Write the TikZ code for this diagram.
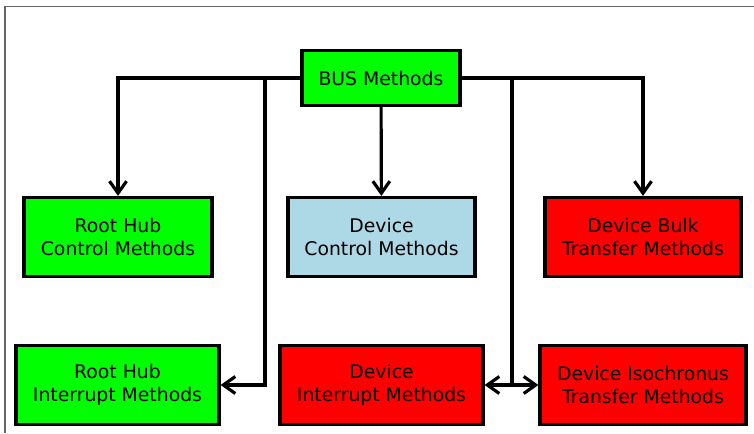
\documentclass[tikz,border=0pt]{standalone}
\usepackage{fontspec}
\setmainfont{DejaVu Sans}
\usetikzlibrary{arrows,arrows.meta,positioning,calc}

\definecolor{lightblue}{RGB}{173,216,230}

\tikzset{
    method/.style={draw,line width=1.8pt,minimum height=1.58cm,inner sep=0pt,align=center,
        font=\fontsize{10.7}{13.1}\selectfont},
    link/.style={line width=1.8pt,-{Straight Barb[length=2.4mm,width=3.4mm]}},
}

\begin{document}
\begin{tikzpicture}
        \useasboundingbox (0,0) rectangle (15.08,-8.66);

        % Frame
        \draw[line width=1pt,black!60] (0.1,-8.66) -- (0.1,-0.13) -- (15.08,-0.13);

        % Top box
        \node[method,fill=green,minimum width=3.16cm,minimum height=1.1cm] (bus) at (7.62,-1.56) {BUS Methods};

        % Middle row
        \node[method,fill=green,minimum width=3.76cm] (rhctrl) at (2.36,-4.74) {Root Hub\\Control Methods};
        \node[method,fill=lightblue,minimum width=3.74cm] (dctrl) at (7.63,-4.74) {Device\\Control Methods};
        \node[method,fill=red,minimum width=3.92cm] (dbulk) at (12.86,-4.74) {Device Bulk\\Transfer Methods};

        % Bottom row
        \node[method,fill=green,minimum width=4.06cm] (rhint) at (2.35,-7.70) {Root Hub\\Interrupt Methods};
        \node[method,fill=red,minimum width=4.06cm] (dint) at (7.63,-7.70) {Device\\Interrupt Methods};
        \node[method,fill=red,minimum width=4.12cm] (diso) at (12.86,-7.70) {Device Isochronus\\Transfer Methods};

        % Split points on the bus line
        \coordinate (lsplit) at (5.30,-1.56);
        \coordinate (rsplit) at (10.24,-1.56);

        % Arcs from the bus
        \draw[link] (bus.west) -| (rhctrl.north);
        \draw[link] (bus) -- (dctrl);
        \draw[link] (bus.east) -| (dbulk.north);

        % Arcs from the split points
        \draw[link] (lsplit) |- (rhint.east);
        \draw[link] (rsplit) |- (dint.east);
        \draw[link] (rsplit) |- (diso.west);
\end{tikzpicture}
\end{document}
